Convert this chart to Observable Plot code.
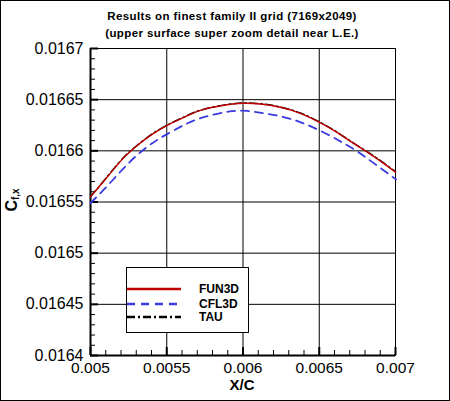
<!DOCTYPE html>
<html>
<head>
<meta charset="utf-8">
<script src="https://cdn.jsdelivr.net/npm/d3@7"></script>
<script src="https://cdn.jsdelivr.net/npm/@observablehq/plot@0.6"></script>
<style>
  html, body { margin: 0; padding: 0; background: #fff; }
  #wrap { position: relative; width: 450px; height: 401px; font-family: "Liberation Sans", Arial, Helvetica, sans-serif; color: #000; overflow: hidden; }
  #wrap svg { position: absolute; left: 0; top: 0; }
  .border { position: absolute; left: 0; top: 0; width: 450px; height: 401px; box-sizing: border-box; border: 1px solid #000; pointer-events: none; }
  .title { position: absolute; left: 0; width: 464px; text-align: center; font-weight: bold; font-size: 11.5px; letter-spacing: 0.4px; white-space: nowrap; }
  .xlabel { position: absolute; left: 222px; width: 40px; top: 378px; text-align: center; font-weight: bold; font-size: 15px; line-height: 13px; }
  .ylabel { position: absolute; left: 12px; top: 200px; transform: translate(-50%, -50%) rotate(-90deg); font-weight: bold; font-size: 16px; white-space: nowrap; }
  .ylabel sub { font-size: 10px; vertical-align: -2px; }
  .legend { position: absolute; left: 126px; top: 267px; width: 123px; height: 66px; box-sizing: border-box; border: 1px solid #000; background: #fff; }
  .legend .row { position: absolute; left: 0; height: 14px; width: 120px; }
  .legend svg { position: absolute; left: 9px; top: 0; }
  .legend span { position: absolute; left: 72px; top: 0; font-weight: bold; font-size: 12px; line-height: 14px; }
</style>
</head>
<body>
<div id="wrap"></div>
<script>
// ---- data ----
const fun3dX = [0.005, 0.005077, 0.005186, 0.005273, 0.005382, 0.0055, 0.005623, 0.005732, 0.005885, 0.006, 0.006114, 0.006245, 0.006376, 0.0065, 0.006614, 0.006723, 0.006832, 0.00692, 0.007];
const fun3dY = [0.016555, 0.0165685, 0.016588, 0.016601, 0.0166139, 0.0166247, 0.0166334, 0.01664, 0.0166448, 0.0166465, 0.0166458, 0.0166426, 0.0166367, 0.016628, 0.0166182, 0.0166075, 0.0165971, 0.016588, 0.0165792];

const cfl3dX = [0.005, 0.005098, 0.005197, 0.005295, 0.005405, 0.005514, 0.005623, 0.005721, 0.00583, 0.005928, 0.006027, 0.006136, 0.006245, 0.006354, 0.006452, 0.006561, 0.006659, 0.006757, 0.006866, 0.006986, 0.007];
const cfl3dY = [0.016549, 0.0165637, 0.0165798, 0.0165944, 0.0166075, 0.0166173, 0.016626, 0.0166319, 0.0166361, 0.0166387, 0.016639, 0.0166367, 0.0166338, 0.0166292, 0.0166234, 0.0166156, 0.0166075, 0.0165987, 0.016587, 0.016574, 0.0165724];

const tauX = [0.005, 0.005077, 0.005186, 0.005273, 0.005382, 0.0055, 0.005623, 0.005732, 0.005885, 0.006, 0.006114, 0.006245, 0.006376, 0.0065, 0.006614, 0.006723, 0.006832, 0.00692, 0.007];
const tauY = [0.0165553, 0.0165689, 0.0165884, 0.0166013, 0.0166142, 0.016625, 0.0166337, 0.0166402, 0.016645, 0.0166467, 0.016646, 0.0166428, 0.016637, 0.0166283, 0.0166185, 0.0166078, 0.0165974, 0.0165884, 0.0165796];

const xTicks = [0.005, 0.0055, 0.006, 0.0065, 0.007];
const xTickLabels = ["0.005", "0.0055", "0.006", "0.0065", "0.007"];
const yTicks = [0.0164, 0.01645, 0.0165, 0.01655, 0.0166, 0.01665, 0.0167];
const yTickLabels = ["0.0164", "0.01645", "0.0165", "0.01655", "0.0166", "0.01665", "0.0167"];
const xMinor = [0.0051, 0.0052, 0.0053, 0.0054, 0.0056, 0.0057, 0.0058, 0.0059, 0.0061, 0.0062, 0.0063, 0.0064, 0.0066, 0.0067, 0.0068, 0.0069];
const yMinor = [0.01641, 0.01642, 0.01643, 0.01644, 0.01646, 0.01647, 0.01648, 0.01649, 0.01651, 0.01652, 0.01653, 0.01654, 0.01656, 0.01657, 0.01658, 0.01659, 0.01661, 0.01662, 0.01663, 0.01664, 0.01666, 0.01667, 0.01668, 0.01669];

const seriesNames = ["FUN3D", "CFL3D", "TAU"];
const seriesColors = ["#c00000", "#3a3ae0", "#000000"];
const seriesDash = [null, "8,6", "8,3,2,3"];

const titleLines = ["Results on finest family II grid (7169x2049)", "(upper surface super zoom detail near L.E.)"];

// ---- build ----
const toRows = (xs, ys) => xs.map((x, i) => ({x, y: ys[i]}));
const fun3d = toRows(fun3dX, fun3dY);
const cfl3d = toRows(cfl3dX, cfl3dY);
const tau = toRows(tauX, tauY);

const W = 450, H = 401, mL = 90, mR = 55, mT = 48, mB = 46;
const pw = W - mL - mR, ph = H - mT - mB;
const font = "'Liberation Sans', Arial, Helvetica, sans-serif";

const chart = Plot.plot({
  width: W, height: H,
  marginLeft: mL, marginRight: mR, marginTop: mT, marginBottom: mB,
  style: {fontFamily: font, background: "transparent", color: "#000"},
  x: {domain: [0.005, 0.007]},
  y: {domain: [0.0164, 0.0167]},
  marks: [
    Plot.gridX(xTicks, {stroke: "#000", strokeOpacity: 1, strokeWidth: 1}),
    Plot.gridY(yTicks, {stroke: "#000", strokeOpacity: 1, strokeWidth: 1}),
    Plot.ruleX(xMinor, {insetTop: ph - 5, stroke: "#000", strokeWidth: 1}),
    Plot.ruleY(yMinor, {insetRight: pw - 5, stroke: "#000", strokeWidth: 1}),
    Plot.ruleX(xTicks, {insetTop: ph - 8, stroke: "#000", strokeWidth: 2}),
    Plot.ruleY(yTicks, {insetRight: pw - 8, stroke: "#000", strokeWidth: 2}),
    Plot.axisX(xTicks, {tickSize: 0, tickPadding: 6, fontSize: 15.5, label: null,
      tickFormat: d => xTickLabels[xTicks.indexOf(d)]}),
    Plot.axisY(yTicks, {tickSize: 0, tickPadding: 7, fontSize: 16, label: null,
      tickFormat: d => yTickLabels[yTicks.indexOf(d)]}),
    Plot.frame({stroke: "#000", strokeWidth: 1}),
    Plot.ruleX([0.005], {stroke: "#000", strokeWidth: 2}),
    Plot.ruleY([0.0164], {stroke: "#000", strokeWidth: 2}),
    Plot.line(tau, {x: "x", y: "y", stroke: seriesColors[2], strokeWidth: 1.5, strokeDasharray: seriesDash[2], curve: "natural"}),
    Plot.line(cfl3d, {x: "x", y: "y", stroke: seriesColors[1], strokeWidth: 1.8, strokeDasharray: seriesDash[1], curve: "natural"}),
    Plot.line(fun3d, {x: "x", y: "y", stroke: seriesColors[0], strokeWidth: 1.4, curve: "natural"})
  ]
});

const wrap = document.getElementById("wrap");
wrap.appendChild(chart);

// titles
const t1 = document.createElement("div");
t1.className = "title"; t1.style.top = "10px"; t1.textContent = titleLines[0];
const t2 = document.createElement("div");
t2.className = "title"; t2.style.top = "27px"; t2.textContent = titleLines[1];
wrap.appendChild(t1); wrap.appendChild(t2);

// axis labels
const xl = document.createElement("div");
xl.className = "xlabel"; xl.textContent = "X/C";
wrap.appendChild(xl);
const yl = document.createElement("div");
yl.className = "ylabel"; yl.innerHTML = "C<sub>f,x</sub>";
wrap.appendChild(yl);

// legend
const lg = document.createElement("div");
lg.className = "legend";
const rowTops = [14, 29, 42];
seriesNames.forEach((name, i) => {
  const row = document.createElement("div");
  row.className = "row"; row.style.top = rowTops[i] + "px";
  const dash = seriesDash[i] ? ` stroke-dasharray="${seriesDash[i]}"` : "";
  row.innerHTML = `<svg width="55" height="14"><line x1="0" x2="54" y1="7" y2="7" stroke="${seriesColors[i]}" stroke-width="2.5"${dash}/></svg><span>${name}</span>`;
  lg.appendChild(row);
});
wrap.appendChild(lg);

const b = document.createElement("div");
b.className = "border";
wrap.appendChild(b);
</script>
</body>
</html>
